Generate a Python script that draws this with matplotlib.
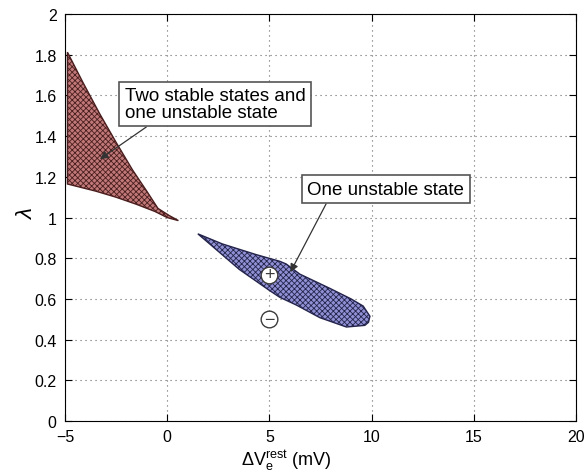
import matplotlib
matplotlib.use("Agg")
import matplotlib.pyplot as plt

plt.rcParams['font.family'] = ['Liberation Sans', 'DejaVu Sans']
plt.rcParams['mathtext.fontset'] = 'custom'
plt.rcParams['mathtext.rm'] = 'Liberation Sans'
plt.rcParams['mathtext.it'] = 'Liberation Sans:italic'
plt.rcParams['hatch.linewidth'] = 0.6

# region with two stable states and one unstable state (outline)
red_x = [-4.88, -4.1, -3.3, -2.5, -1.7, -1.0, -0.45, 0.1, 0.55, 0.0, -0.6, -1.5, -2.5, -3.5, -4.88]
red_y = [1.813, 1.66, 1.51, 1.37, 1.235, 1.13, 1.045, 1.01, 0.985, 1.0, 1.03, 1.065, 1.10, 1.13, 1.165]

# region with one unstable state
blue_x = [1.50, 2.71, 4.35, 5.51, 5.82, 6.49, 7.96, 9.0, 9.59, 9.92, 9.85, 9.67, 8.77, 7.47, 6.32,
          5.51, 5.0, 3.53, 2.06, 1.50]
blue_y = [0.92, 0.87, 0.818, 0.785, 0.772, 0.722, 0.652, 0.60, 0.565, 0.515, 0.485, 0.47, 0.462, 0.508, 0.57,
          0.608, 0.642, 0.745, 0.872, 0.92]

plus_pt = (5.0, 0.72)
minus_pt = (5.0, 0.5)

xticks = [-5, 0, 5, 10, 15, 20]
yticks = [0, 0.2, 0.4, 0.6, 0.8, 1, 1.2, 1.4, 1.6, 1.8, 2]
ytick_labels = ['0', '0.2', '0.4', '0.6', '0.8', '1', '1.2', '1.4', '1.6', '1.8', '2']

fig = plt.figure(figsize=(5.88, 4.77), dpi=100)
ax = fig.add_axes([0.1105, 0.1153, 0.869, 0.853])

ax.fill(red_x, red_y, facecolor='#c07878', edgecolor='#4a1e1e', hatch='xxxxxx', lw=1.0, zorder=2)
ax.fill(blue_x, blue_y, facecolor='#9090d4', edgecolor='#24244c', hatch='xxxxxx', lw=1.0, zorder=2)

for (px, py), sym in [(plus_pt, '+'), (minus_pt, '−')]:
    ax.plot(px, py, 'o', ms=12, mfc='white', mec='#3c3c3c', mew=1.0, zorder=4)
    ax.text(px, py, sym, ha='center', va='center', fontsize=13, color='#3c3c3c', zorder=5)

box = dict(boxstyle='square,pad=0.3', fc='white', ec='#555555', lw=1.2)
ax.annotate('Two stable states and\none unstable state', xy=(-3.29, 1.287), xytext=(2.34, 1.558),
            fontsize=13.5, ha='center', va='center', multialignment='left', zorder=6,
            linespacing=0.95, bbox=box,
            arrowprops=dict(arrowstyle='-|>', color='#333333', lw=0.9, mutation_scale=12,
                            shrinkA=0, shrinkB=0, relpos=(0.17, 0.0)))
ax.annotate('One unstable state', xy=(6.03, 0.732), xytext=(10.7, 1.14),
            fontsize=13.5, ha='center', va='center', zorder=6,
            bbox=box,
            arrowprops=dict(arrowstyle='-|>', color='#333333', lw=0.9, mutation_scale=12,
                            shrinkA=0, shrinkB=0, relpos=(0.14, 0.0)))

ax.set_xlim(-5, 20)
ax.set_ylim(0, 2)
ax.set_xticks(xticks)
ax.set_yticks(yticks)
ax.set_yticklabels(ytick_labels)
ax.grid(True, linestyle=(0, (1, 3.5)), color='#666666', lw=0.8, zorder=0)
ax.set_axisbelow(True)
ax.tick_params(direction='in', top=True, right=True, labelsize=11.5, length=5, width=0.8, pad=6)
for s in ax.spines.values():
    s.set_linewidth(0.8)

ax.set_xlabel(r'$\Delta$V$_\mathrm{e}^\mathrm{rest}$ $\mathregular{(mV)}$', fontsize=13)
ax.xaxis.set_label_coords(0.434, -0.065)
ax.set_ylabel(r'$\lambda$', fontsize=16)
ax.yaxis.set_label_coords(-0.055, 0.513)

fig.savefig('out.png', dpi=100)
